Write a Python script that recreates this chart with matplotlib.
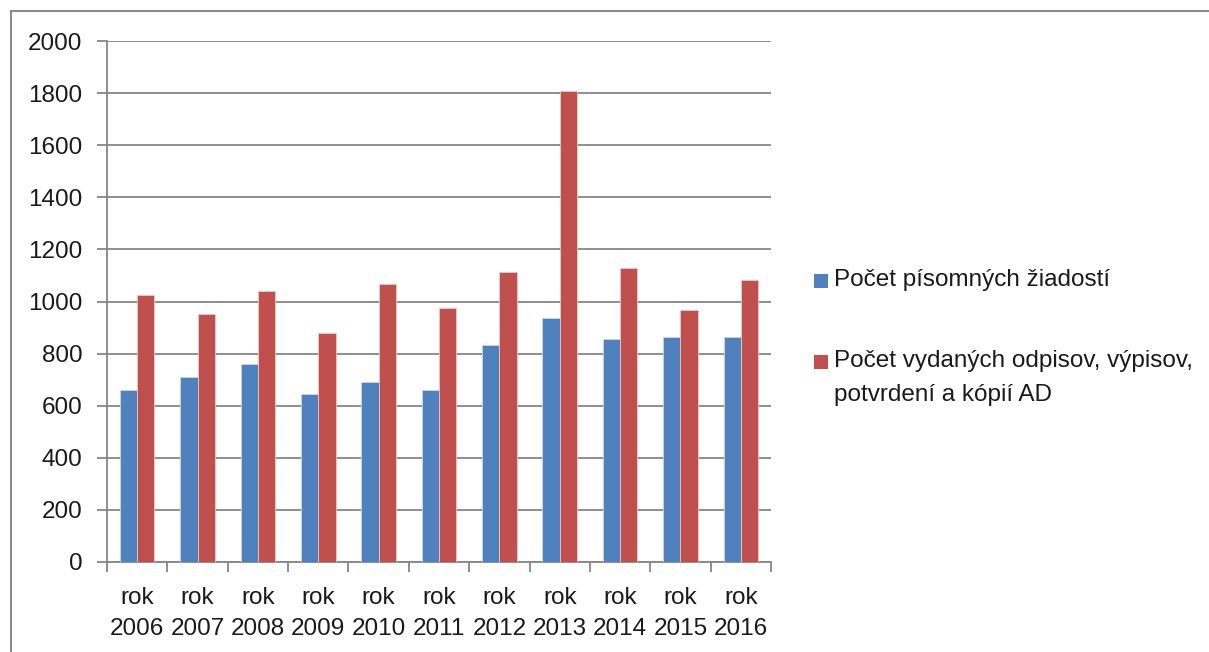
import matplotlib
matplotlib.use("Agg")
import matplotlib.pyplot as plt
from matplotlib.lines import Line2D
from matplotlib.patches import Rectangle
import numpy as np

# údaje z grafu
roky = ["2006", "2007", "2008", "2009", "2010", "2011",
        "2012", "2013", "2014", "2015", "2016"]
ziadosti = [660, 710, 760, 645, 690, 660, 833, 937, 857, 862, 862]
odpisy = [1025, 951, 1040, 878, 1066, 976, 1114, 1809, 1130, 966, 1084]
nazvy = ["Počet písomných žiadostí",
         "Počet vydaných odpisov, výpisov,\npotvrdení a kópií AD"]
y_ticks = [0, 200, 400, 600, 800, 1000, 1200, 1400, 1600, 1800, 2000]

plt.rcParams['font.family'] = ['Liberation Sans', 'DejaVu Sans']
fs = 17.5
modra = '#4F81BD'
cervena = '#C0504D'
siva = '#868686'
text_farba = '#1a1a1a'

W, H = 1209, 652
fig = plt.figure(figsize=(W / 100, H / 100), dpi=100)
ax = fig.add_axes([107 / W, 1 - 562 / H, 664 / W, 521 / H])

x = np.arange(len(roky))
w = 1 / 3.5
ax.bar(x - w / 2, ziadosti, w, color=modra, edgecolor='#c9d7ea', linewidth=0.6, zorder=3)
ax.bar(x + w / 2, odpisy, w, color=cervena, edgecolor='#ecc9c8', linewidth=0.6, zorder=3)

ax.set_xlim(-0.5, len(roky) - 0.5)
ax.set_ylim(0, 2000)
ax.set_yticks(y_ticks)
ax.set_yticklabels([str(v) for v in y_ticks], fontsize=fs, color=text_farba)
ax.yaxis.grid(True, color=siva, linewidth=1.3, zorder=0)
ax.tick_params(axis='y', length=7.2, width=1.3, color=siva, pad=10.5)

# popisky osi x v strede kategorie, značky na hraniciach
ax.set_xticks(x)
ax.set_xticklabels(["rok\n" + r for r in roky], fontsize=fs, color=text_farba,
                   linespacing=1.55)
ax.tick_params(axis='x', length=0, pad=18)
ax.set_xticks(np.arange(-0.5, len(roky)), minor=True)
ax.tick_params(axis='x', which='minor', length=7.2, width=1.3, color=siva)

for s in ['top', 'right']:
    ax.spines[s].set_visible(False)
for s in ['left', 'bottom']:
    ax.spines[s].set_color(siva)
    ax.spines[s].set_linewidth(1.3)

# legenda ručne (štvorček pri prvom riadku)
legenda = [(modra, nazvy[0], 281), (cervena, nazvy[1], 362)]
for farba, nazov, yy in legenda:
    fig.add_artist(Rectangle((814 / W, 1 - (yy + 7) / H), 14 / W, 14 / H,
                             transform=fig.transFigure, facecolor=farba, edgecolor='none'))
    fig.text(834 / W, 1 - (yy - 12) / H, nazov, fontsize=fs, color=text_farba,
             va='top', ha='left', linespacing=1.7)

# rám okolo grafu
fig.add_artist(Line2D([11 / W, 11 / W], [0, 1 - 11 / H], transform=fig.transFigure,
                      color='#8c8c8c', linewidth=1.5))
fig.add_artist(Line2D([11 / W, 1], [1 - 11 / H, 1 - 11 / H], transform=fig.transFigure,
                      color='#8c8c8c', linewidth=1.5))

fig.savefig("out.png", dpi=100)
